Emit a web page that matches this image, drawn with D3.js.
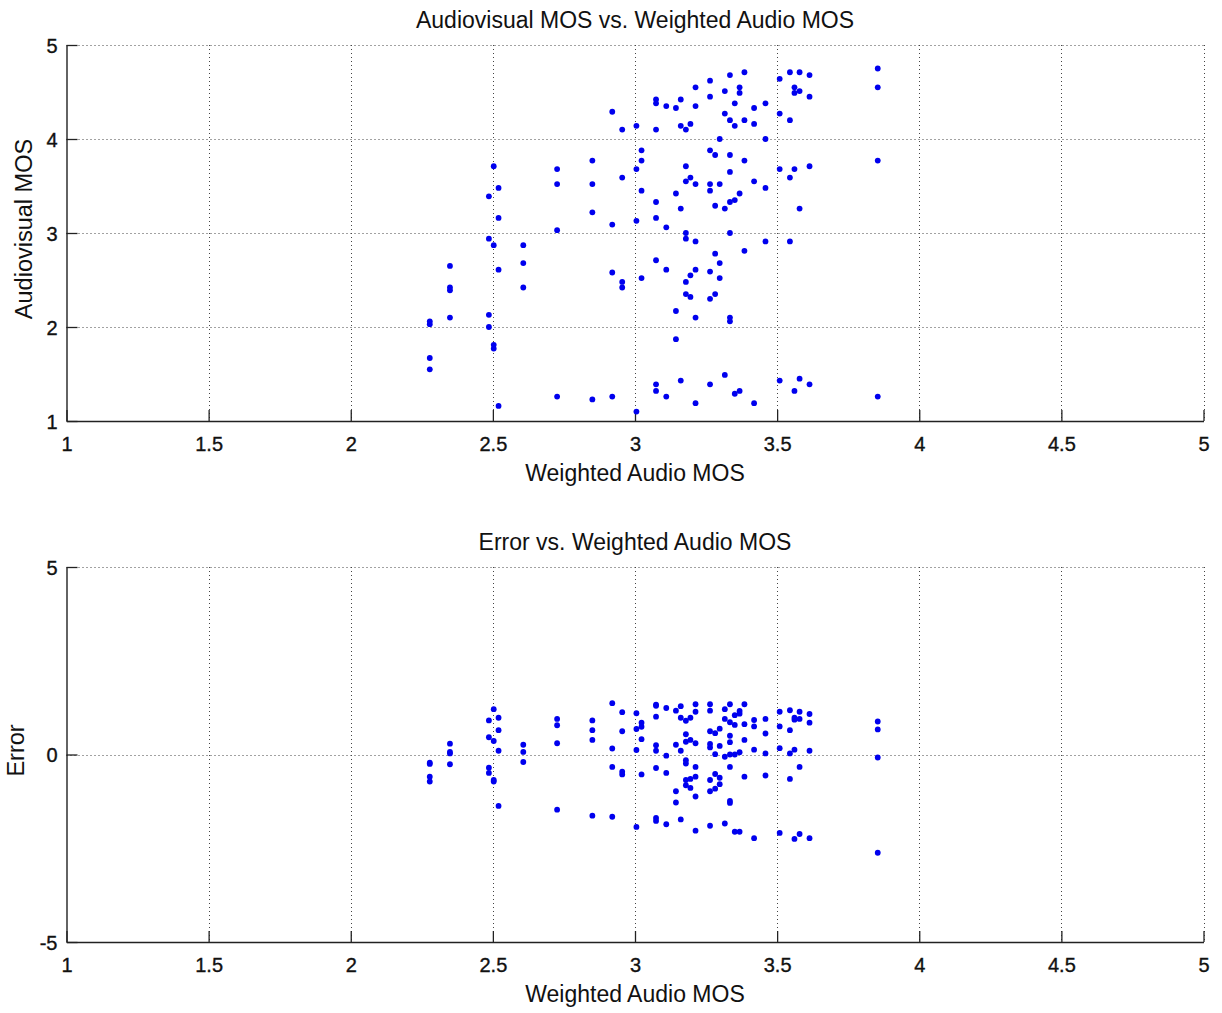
<!DOCTYPE html>
<html>
<head>
<meta charset="utf-8">
<script src="https://cdn.jsdelivr.net/npm/d3@7"></script>
<style>
  html, body { margin: 0; padding: 0; background: #fff; }
  svg text { font-family: "Liberation Sans", Arial, Helvetica, sans-serif; fill: #111; }
</style>
</head>
<body>
<svg id="chart" width="1222" height="1013"></svg>
<script>
// Weighted audio MOS (x positions of point columns)
const audioMOS = [2.278, 2.349, 2.486, 2.503, 2.520, 2.607, 2.726, 2.850, 2.920, 2.955,
  3.005, 3.023, 3.074, 3.110, 3.144, 3.161, 3.179, 3.195, 3.213, 3.264,
  3.282, 3.298, 3.316, 3.334, 3.351, 3.368, 3.385, 3.419, 3.459, 3.509,
  3.545, 3.561, 3.579, 3.614, 3.854];

// Audiovisual MOS for each column
const avMOS = [
  [2.06, 2.03, 1.67, 1.55],
  [2.65, 2.42, 2.39, 2.10],
  [3.39, 2.94, 2.13, 2.00],
  [3.71, 2.87, 1.81, 1.77],
  [3.48, 3.16, 2.61, 1.16],
  [2.87, 2.68, 2.42],
  [3.68, 3.52, 3.03, 1.26],
  [3.77, 3.52, 3.22, 1.23],
  [4.29, 3.09, 2.58, 1.26],
  [4.10, 3.59, 2.48, 2.42],
  [4.14, 3.68, 3.13, 1.10],
  [3.88, 3.77, 3.45, 2.52],
  [4.42, 4.38, 4.10, 3.33, 3.16, 2.71, 1.39, 1.32],
  [4.35, 3.06, 2.61, 1.26],
  [4.33, 3.42, 2.17, 1.87],
  [4.42, 4.14, 3.26, 1.43],
  [4.10, 3.71, 3.55, 3.00, 2.94, 2.48, 2.35],
  [4.16, 3.59, 2.55, 2.32],
  [4.55, 4.35, 3.52, 2.91, 2.61, 2.10, 1.19],
  [4.62, 4.45, 3.88, 3.52, 3.45, 2.59, 2.30, 1.39],
  [3.83, 3.29, 2.78, 2.35],
  [4.00, 3.52, 2.68, 2.52],
  [4.51, 4.27, 3.26, 1.49],
  [4.68, 4.20, 3.83, 3.65, 3.33, 3.00, 2.10, 2.06],
  [4.38, 4.14, 3.35, 1.29],
  [4.55, 4.49, 3.42, 1.32],
  [4.71, 4.20, 3.77, 2.81],
  [4.33, 4.16, 3.55, 1.19],
  [4.38, 4.00, 3.48, 2.91],
  [4.64, 4.27, 3.68, 1.43],
  [4.71, 4.20, 3.59, 2.91],
  [4.55, 4.49, 3.68, 1.32],
  [4.71, 4.51, 3.26, 1.45],
  [4.68, 4.45, 3.71, 1.39],
  [4.75, 4.55, 3.77, 1.26]
];

// Prediction error for each column
const errorVals = [
  [-0.22, -0.25, -0.59, -0.72],
  [0.29, 0.07, 0.03, -0.26],
  [0.91, 0.46, -0.35, -0.49],
  [1.21, 0.36, -0.68, -0.72],
  [0.98, 0.65, 0.10, -1.37],
  [0.26, 0.07, -0.20],
  [0.95, 0.78, 0.30, -1.47],
  [0.91, 0.65, 0.39, -1.63],
  [1.37, 0.16, -0.33, -1.66],
  [1.13, 0.62, -0.46, -0.53],
  [1.10, 0.68, 0.12, -1.93],
  [0.85, 0.74, 0.41, -0.53],
  [1.33, 1.30, 1.01, 0.25, 0.10, -0.36, -1.69, -1.77],
  [1.24, -0.03, -0.49, -1.86],
  [1.17, 0.26, -0.98, -1.28],
  [1.29, 0.98, 0.10, -1.73],
  [0.90, 0.54, 0.34, -0.15, -0.24, -0.68, -0.82],
  [0.98, 0.39, -0.65, -0.89],
  [1.34, 1.14, 0.30, -0.33, -0.59, -1.12, -2.03],
  [1.34, 1.17, 0.62, 0.28, 0.19, -0.68, -0.98, -1.90],
  [0.57, 0.01, -0.52, -0.91],
  [0.69, 0.23, -0.62, -0.79],
  [1.21, 0.95, -0.06, -1.84],
  [1.34, 0.86, 0.50, 0.33, 0.00, -0.33, -1.24, -1.29],
  [1.05, 0.79, 0.00, -2.06],
  [1.16, 1.09, 0.06, -2.06],
  [1.34, 0.81, 0.39, -0.59],
  [0.92, 0.75, 0.13, -2.23],
  [0.95, 0.56, 0.03, -0.56],
  [1.14, 0.75, 0.17, -2.09],
  [1.18, 0.65, 0.03, -0.65],
  [0.98, 0.93, 0.13, -2.25],
  [1.14, 0.95, -0.33, -2.12],
  [1.08, 0.85, 0.10, -2.23],
  [0.88, 0.67, -0.08, -2.62]
];

const xTicks = [1, 1.5, 2, 2.5, 3, 3.5, 4, 4.5, 5];
const topYTicks = [1, 2, 3, 4, 5];
const botYTicks = [-5, 0, 5];

const titles = ["Audiovisual MOS vs. Weighted Audio MOS", "Error vs. Weighted Audio MOS"];
const xLabel = "Weighted Audio MOS";
const yLabels = ["Audiovisual MOS", "Error"];

const svg = d3.select("#chart");
const left = 66.5, right = 1203.5;

function panel(cfg) {
  const x = d3.scaleLinear().domain([1, 5]).range([left, right]);
  const y = d3.scaleLinear().domain(cfg.yDomain).range([cfg.bottom, cfg.top]);
  const g = svg.append("g");

  // grid (dotted) incl. top and right border
  g.append("g").selectAll("line").data(xTicks.slice(1)).join("line")
    .attr("x1", d => Math.round(x(d)) + 0.5).attr("x2", d => Math.round(x(d)) + 0.5)
    .attr("y1", cfg.top).attr("y2", cfg.bottom)
    .attr("stroke", "#444").attr("stroke-width", 1).attr("stroke-dasharray", "1,3");
  g.append("g").selectAll("line").data(cfg.yTicks.slice(1)).join("line")
    .attr("y1", d => Math.round(y(d)) + 0.5).attr("y2", d => Math.round(y(d)) + 0.5)
    .attr("x1", left).attr("x2", right)
    .attr("stroke", "#444").attr("stroke-width", 1).attr("stroke-dasharray", "1,3");

  const tickFont = sel => sel.style("font-size", "20px")
    .style("font-family", "Liberation Sans, Arial, sans-serif")
    .attr("fill", "#111").attr("stroke", "#111").attr("stroke-width", 0.35);

  // axes via d3 with inward ticks
  const xAxis = d3.axisBottom(x).tickValues(xTicks).tickSize(-11).tickSizeOuter(0).tickFormat(d => String(d));
  const ax = g.append("g").attr("transform", `translate(0,${cfg.bottom})`).call(xAxis);
  ax.select(".domain").attr("stroke", "#222").attr("stroke-width", 1.4);
  ax.selectAll(".tick line").attr("stroke", "#222").attr("stroke-width", 1.3);
  ax.selectAll(".tick text").attr("y", 30).attr("dy", 0).call(tickFont);

  const yAxis = d3.axisLeft(y).tickValues(cfg.yTicks).tickSize(-11).tickSizeOuter(0).tickFormat(d => String(d));
  const ay = g.append("g").attr("transform", `translate(${left},0)`).call(yAxis);
  ay.select(".domain").attr("stroke", "#222").attr("stroke-width", 1.4);
  ay.selectAll(".tick line").attr("stroke", "#222").attr("stroke-width", 1.3);
  ay.selectAll(".tick text").attr("x", -9).attr("dy", "0.36em").call(tickFont);

  // points
  const pts = [];
  audioMOS.forEach((ax_, i) => cfg.values[i].forEach(v => pts.push([ax_, v])));
  g.append("g").selectAll("circle").data(pts).join("circle")
    .attr("cx", d => x(d[0])).attr("cy", d => y(d[1])).attr("r", 2.9)
    .attr("fill", "#0000ee");

  // title
  g.append("text").attr("x", (left + right) / 2).attr("y", cfg.top - 17)
    .attr("text-anchor", "middle").style("font-size", "23px").text(cfg.title);
  // x label
  g.append("text").attr("x", (left + right) / 2).attr("y", cfg.bottom + 60)
    .attr("text-anchor", "middle").style("font-size", "23px").text(xLabel);
  // y label
  g.append("text").attr("transform", `translate(${cfg.ylabX},${(cfg.top + cfg.bottom) / 2 - 4}) rotate(-90)`)
    .attr("text-anchor", "middle").style("font-size", "23.5px").text(cfg.ylabel);
}

panel({ top: 45, bottom: 421, yDomain: [1, 5], yTicks: topYTicks, values: avMOS,
        title: titles[0], ylabel: yLabels[0], ylabX: 32 });
panel({ top: 567, bottom: 942, yDomain: [-5, 5], yTicks: botYTicks, values: errorVals,
        title: titles[1], ylabel: yLabels[1], ylabX: 24 });
</script>
</body>
</html>
